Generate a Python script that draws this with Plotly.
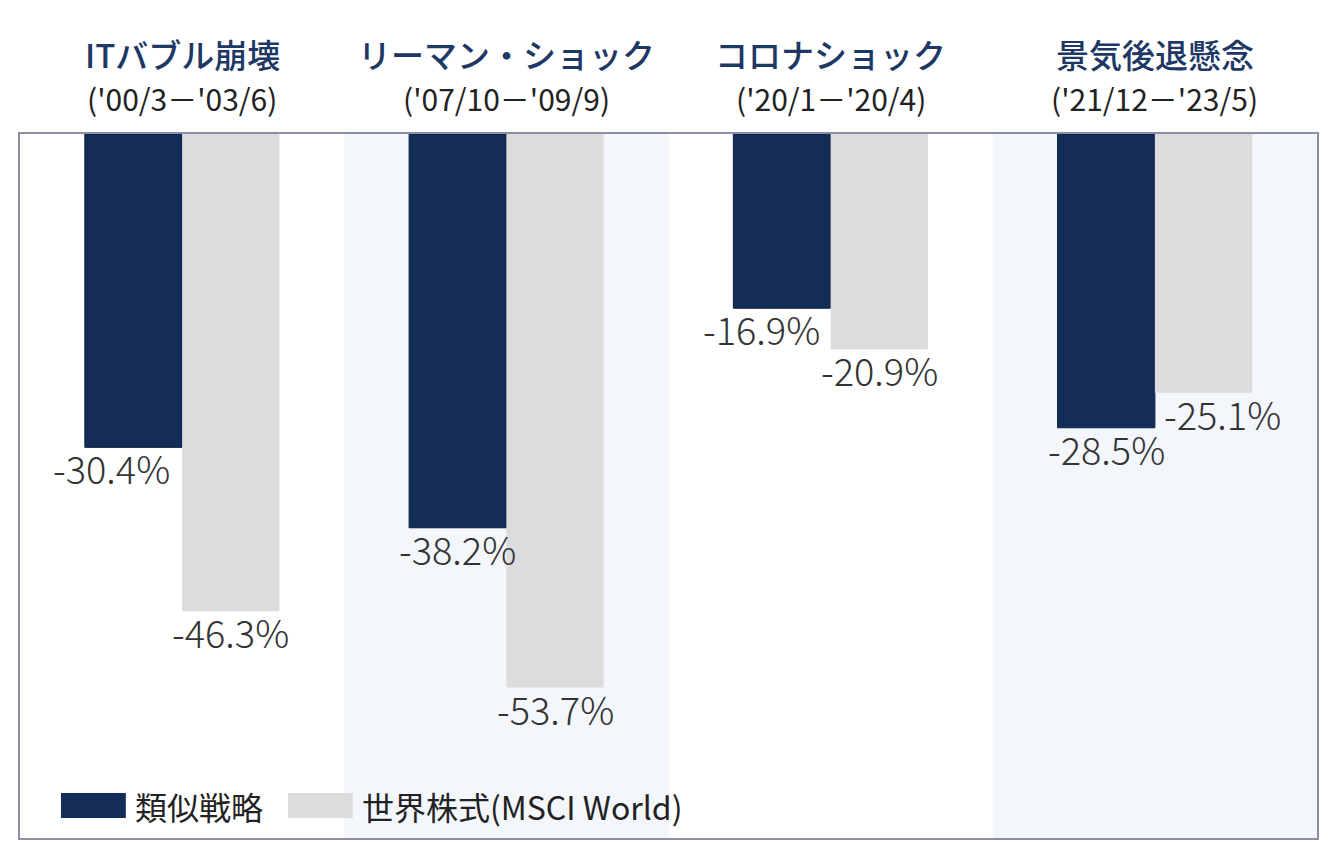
import plotly.graph_objects as go

# --- DATA ---
events = ["ITバブル崩壊", "リーマン・ショック", "コロナショック", "景気後退懸念"]
periods = ["('00/3－'03/6)", "('07/10－'09/9)", "('20/1－'20/4)", "('21/12－'23/5)"]
series_names = ["類似戦略", "世界株式(MSCI World)"]
strategy = [-30.4, -38.2, -16.9, -28.5]
msci_world = [-46.3, -53.7, -20.9, -25.1]

# label nudges (px) so neighbouring labels do not collide
strategy_nudge = [-22, 0, -20, 0]
msci_nudge = [0, 0, 0, 19]

DARK = "#132d58"
GREY = "#dcdcdc"
FONT = "Noto Sans CJK JP"

x_idx = list(range(len(events)))

fig = go.Figure()
fig.add_trace(go.Bar(x=x_idx, y=strategy, name=series_names[0],
                     marker=dict(color=DARK, line=dict(color="#0b1e42", width=1))))
fig.add_trace(go.Bar(x=x_idx, y=msci_world, name=series_names[1],
                     marker=dict(color=GREY, line=dict(width=0))))

# shaded bands behind every second event
shapes = []
for i in x_idx:
    if i % 2 == 1:
        shapes.append(dict(type="rect", xref="x", yref="paper", x0=i - 0.5, x1=i + 0.5,
                           y0=0, y1=1, fillcolor="#f3f6fa", line=dict(width=0), layer="below"))

annotations = []
# event titles above the frame
for i, (ev, pr) in enumerate(zip(events, periods)):
    annotations.append(dict(x=i, y=1, xref="x", yref="paper", yanchor="middle", yshift=80,
                            text=ev, showarrow=False,
                            font=dict(family=FONT, size=33, color="#1d3865", weight=500)))
    annotations.append(dict(x=i, y=1, xref="x", yref="paper", yanchor="middle", yshift=36,
                            text=pr, showarrow=False,
                            font=dict(family=FONT, size=30, color="#222222")))

# value labels below bar ends
half = 0.15
for i in x_idx:
    annotations.append(dict(x=i - half, y=strategy[i], xref="x", yref="y", yanchor="top",
                            yshift=9, xshift=strategy_nudge[i], text=f"{strategy[i]:.1f}%",
                            showarrow=False, font=dict(family=FONT, size=38, color="#333333", weight=300)))
    annotations.append(dict(x=i + half, y=msci_world[i], xref="x", yref="y", yanchor="top",
                            yshift=9, xshift=msci_nudge[i], text=f"{msci_world[i]:.1f}%",
                            showarrow=False, font=dict(family=FONT, size=38, color="#333333", weight=300)))

# custom legend at the bottom left
legend_items = [(series_names[0], DARK, 0.0316), (series_names[1], GREY, 0.2066)]
for name, col, x0 in legend_items:
    shapes.append(dict(type="rect", xref="paper", yref="paper", x0=x0, x1=x0 + 0.05,
                       y0=0.0284, y1=0.0639, fillcolor=col, line=dict(width=0)))
    annotations.append(dict(x=x0 + 0.0555, y=0.046, xref="paper", yref="paper",
                            xanchor="left", yanchor="middle", text=name, showarrow=False,
                            font=dict(family=FONT, size=32, color="#222222")))

fig.update_layout(
    width=1332, height=834,
    margin=dict(l=12, r=23, t=126, b=4),
    paper_bgcolor="white", plot_bgcolor="white",
    barmode="group", bargap=0.4, bargroupgap=0,
    showlegend=False,
    shapes=shapes, annotations=annotations,
    font=dict(family=FONT),
)
fig.update_xaxes(range=[-0.5, 3.5], showticklabels=False, showgrid=False, zeroline=False,
                 showline=True, mirror=True, linecolor="#8a8fa5", linewidth=2, ticks="")
fig.update_yaxes(range=[-68.3, 0], showticklabels=False, showgrid=False, zeroline=False,
                 showline=True, mirror=True, linecolor="#8a8fa5", linewidth=2, ticks="")

fig.write_html("out.html")
